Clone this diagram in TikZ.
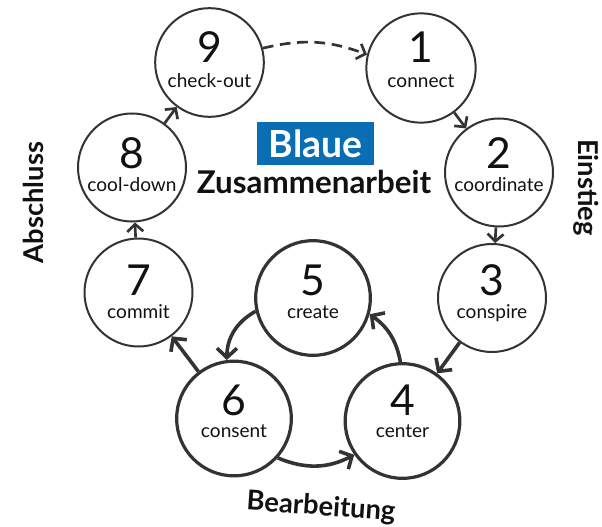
\documentclass[tikz,border=0pt]{standalone}
\usepackage{fontspec}
\setmainfont{Lato}
\usetikzlibrary{arrows.meta,calc}
\definecolor{ink}{HTML}{333333}
\definecolor{txt}{HTML}{111111}
\definecolor{blau}{HTML}{0A6EB4}
\begin{document}
\begin{tikzpicture}[x=0.75pt,y=0.75pt,
  ring/.style={circle,draw=ink,line width=1.5pt,inner sep=0pt},
  ringthin/.style={ring,minimum size=81pt},
  ringbold/.style={ring,line width=2.4pt,minimum size=86pt},
  num/.style={anchor=base,inner sep=0pt,text=txt,font=\fontsize{32}{32}\selectfont},
  lab/.style={anchor=base,inner sep=0pt,text=txt,font=\fontsize{14.3}{14.3}\selectfont},
  side/.style={inner sep=0pt,text=txt,font=\bfseries\fontsize{20.5}{20.5}\selectfont},
  conn/.style={draw=ink,line width=2pt,-{Straight Barb[length=5.5pt,width=12pt]}},
  connbold/.style={draw=ink,line width=2.7pt,-{Straight Barb[length=7pt,width=15pt]}}]
\useasboundingbox (0,0) rectangle (602,526);

% circles
\node[ring,minimum size=81.5pt] (n9) at (209.5,463.5) {};
\node[ring,minimum size=82pt] (n1) at (421,458) {};
\node[ringthin] (n2) at (499,353.5) {};
\node[ringthin] (n3) at (492,228) {};
\node[ringbold] (n4) at (402.5,105) {};
\node[ringbold] (n5) at (313,228) {};
\node[ringbold] (n6) at (234,107.5) {};
\node[ringthin] (n7) at (138.5,233.5) {};
\node[ringthin] (n8) at (132,358.5) {};

% numbers and labels
\node[num] (t9) at (209.5,463) {9};
\node[lab] (l9) at (209.5,439) {check-out};
\node[num] (t1) at (421,463) {1};
\node[lab] (l1) at (421,439) {connect};
\node[num] (t2) at (499,358) {2};
\node[lab] (l2) at (499,335) {coordinate};
\node[num] (t8) at (132,358) {8};
\node[lab] (l8) at (132,335) {cool-down};
\node[num] (t3) at (492,231) {3};
\node[lab] (l3) at (492,208) {conspire};
\node[num] (t7) at (138.5,231) {7};
\node[lab] (l7) at (138.5,208) {commit};
\node[num] (t5) at (313,231) {5};
\node[lab] (l5) at (313,208) {create};
\node[num] (t6) at (234,111) {6};
\node[lab] (l6) at (234,89) {consent};
\node[num] (t4) at (402.5,111) {4};
\node[lab] (l4) at (402.5,89) {center};

% title
\node[fill=blau,minimum width=87.75pt,minimum height=32.25pt,inner sep=0pt,
      text=white,font=\bfseries\fontsize{28}{28}\selectfont] (blaue) at (315.5,382.5) {Blaue};
\node[anchor=base,inner sep=0pt,text=txt,font=\bfseries\fontsize{23.5}{23.5}\selectfont] (zus) at (314,333) {Zusammenarbeit};

% side labels
\node[side,rotate=90] (abs) at (33.5,323.5) {Abschluss};
\node[side,rotate=-90] (ein) at (586,338.5) {Einstieg};
\node[side,rotate=-4] (bea) at (321,18.5) {Bearbeitung};

% connectors
\draw[conn,dashed,dash pattern=on 8pt off 5pt] (n9.15) to[bend left=17] (n1.166);
\draw[conn] (n1) -- (n2);
\draw[conn] (n2) -- (n3);
\draw[connbold] (n3) -- (n4);
\draw[connbold] (n4.92) to[bend right=22] (n5.-16);
\draw[connbold] (n5.193) to[bend right=30] (n6.97);
\draw[connbold] (n6.-42) to[bend right=25] (n4.215);
\draw[connbold] (n6) -- (n7);
\draw[conn] (n7) -- (n8);
\draw[conn] (n8) -- (n9);
\end{tikzpicture}
\end{document}
